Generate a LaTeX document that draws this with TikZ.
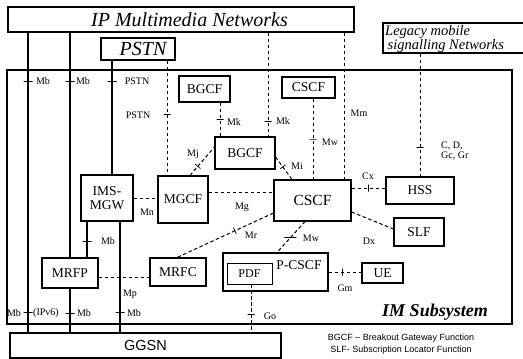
\documentclass[tikz,border=0pt]{standalone}
\usepackage{fontspec}
\setmainfont{Liberation Serif}
\setsansfont{Liberation Sans}
\begin{document}
\begin{tikzpicture}[x=1pt,y=-1pt,
  box/.style={draw, line width=1.1pt, rectangle, inner sep=0pt, font=\fontsize{13.5}{14}\selectfont},
  lab/.style={font=\fontsize{10}{10.5}\selectfont, inner sep=0pt},
  thk/.style={line width=2.4pt},
  dsh/.style={line width=1pt, dash pattern=on 3.5pt off 2.5pt},
  tk/.style={sloped, draw, solid, minimum width=0pt, minimum height=7pt, inner sep=0pt, line width=0.7pt},
  tkb/.style={tk, minimum height=9pt},
  tkh/.style={draw, solid, minimum width=12pt, minimum height=0pt, inner sep=0pt, line width=0.7pt},
]
\useasboundingbox (0,0) rectangle (523,359);

% helper coordinates
\foreach \v in {28,70,87,112,120,167,177,190,220,251,268,277,292,305,313,344,420}
  \coordinate (X\v) at (\v,0);
\foreach \v in {147,157,188,192,198,212,213,229,272,277}
  \coordinate (Y\v) at (0,\v);

% frames
\node[draw, line width=1.5pt, minimum width=505pt, minimum height=254pt, inner sep=0pt] (imsub) at (259.5,197) {};
\node[font=\fontsize{18}{20}\selectfont\bfseries\itshape, inner sep=0pt] (imlab) at (435,312) {IM Subsystem};

\node[box, minimum width=346pt, minimum height=25pt, font=\fontsize{20}{22}\selectfont\itshape] (ipmm) at (181,19.5) {\hspace*{17pt}IP Multimedia Networks};
\node[box, minimum width=74pt, minimum height=22pt, font=\fontsize{20}{22}\selectfont\itshape] (pstn) at (138,49) {\hspace*{10pt}PSTN};
\node[draw, line width=1.1pt, minimum width=143pt, minimum height=30pt, inner sep=0pt] (legacy) at (454.5,38) {};
\node[font=\fontsize{14.5}{13.5}\selectfont\itshape, align=left, anchor=west, inner sep=0pt] (legtxt) at (385,39) {Legacy mobile\\ \,signalling Networks};
\node[box, minimum width=271pt, minimum height=25pt, font=\sffamily\fontsize{14.5}{16}\selectfont] (ggsn) at (145.5,345.5) {GGSN};

% function boxes
\node[box, minimum width=51pt, minimum height=26pt] (bgcf1) at (204.5,89) {BGCF};
\node[box, minimum width=60pt, minimum height=32pt] (bgcf2) at (245,153) {BGCF};
\node[box, minimum width=53pt, minimum height=21pt] (cscf1) at (308.5,87.5) {CSCF};
\node[box, minimum width=50pt, minimum height=47pt] (mgcf) at (183,199.5) {MGCF};
\node[box, minimum width=52pt, minimum height=46pt, align=center, font=\fontsize{13.5}{14}\selectfont] (mgw) at (107,198) {IMS-\\MGW};
\node[box, minimum width=77pt, minimum height=41pt, font=\fontsize{15.5}{16}\selectfont] (cscf) at (312.5,200.5) {CSCF};
\node[box, minimum width=68pt, minimum height=27pt] (hss) at (420,190.5) {HSS};
\node[box, minimum width=50pt, minimum height=28pt] (slf) at (419,232) {SLF};
\node[box, minimum width=56pt, minimum height=30pt] (mrfp) at (70,273) {MRFP};
\node[box, minimum width=56pt, minimum height=28pt] (mrfc) at (178,272) {MRFC};
\node[box, minimum width=105pt, minimum height=38pt] (pcscf) at (275.5,272) {};
\node[font=\fontsize{13.5}{14}\selectfont, inner sep=0pt] (pcscftxt) at (299,265) {P-CSCF};
\node[box, line width=0.6pt, minimum width=45pt, minimum height=21pt, font=\fontsize{12}{13}\selectfont] (pdf) at (249.5,273.5) {PDF};
\node[box, minimum width=41pt, minimum height=20pt] (ue) at (382.5,273) {UE};

% thick bearer lines
\draw[thk] (ipmm.south -| X28) -- node[tkb,pos=0.163]{} node[tkb,pos=0.934]{} (ggsn.north -| X28);
\draw[thk] (ipmm.south -| X70) -- node[tkb,pos=0.217]{} (mrfp.north -| X70);
\draw[thk] (mrfp.south -| X70) -- node[tkb,pos=0.556]{} (ggsn.north -| X70);
\draw[thk] (pstn.south -| X112) -- node[tkb,pos=0.183]{} (mgw.north -| X112);
\draw[thk] (mgw.south -| X87) -- node[tkb,pos=0.54]{} (mrfp.north -| X87);
\draw[thk] (mgw.south -| X120) -- node[tkb,pos=0.82]{} (ggsn.north -| X120);

% dashed signalling lines
\draw[dsh] (pstn.south -| X167) -- node[tk,pos=0.47]{} (mgcf.north -| X167);
\draw[dsh] (bgcf1.south -| X220) -- node[tk,pos=0.5]{} (bgcf2.north -| X220);
\draw[dsh] (ipmm.south -| X268) -- node[tk,pos=0.85]{} (bgcf2.north -| X268);
\draw[dsh] (cscf1.south -| X313) -- node[tk,pos=0.5]{} (cscf.north -| X313);
\draw[dsh] (ipmm.south -| X344) -- (cscf.north -| X344);
\draw[dsh] (legacy.south -| X420) -- node[tk,pos=0.76]{} (hss.north -| X420);
\draw[dsh] (mgw.east |- Y198) -- (mgcf.west |- Y198);
\draw[dsh] (mgcf.north -| X190) -- node[tk,pos=0.32]{} (bgcf2.west |- Y147);
\draw[dsh] (bgcf2.east |- Y157) -- node[tk,pos=0.44]{} (cscf.north -| X292);
\draw[dsh] (mgcf.east |- Y192) -- (cscf.west |- Y192);
\draw[dsh] (cscf.west |- Y213) -- node[tk,pos=0.4]{} (mrfc.north -| X177);
\draw[dsh] (cscf.east |- Y188) -- node[tk,pos=0.49]{} (hss.west |- Y188);
\draw[dsh] (cscf.east |- Y212) -- (slf.west |- Y229);
\draw[dsh] (cscf.south -| X305) -- node[tkh,pos=0.52]{} (pcscf.north -| X277);
\draw[dsh] (pcscf.east |- Y272) -- node[tk,pos=0.41]{} (ue.west |- Y272);
\draw[dsh] (pdf.south -| X251) -- node[tk,pos=0.63]{} (ggsn.north -| X251);
\draw[dsh] (mrfp.east |- Y277) -- (mrfc.west |- Y277);

% interface labels
\node[lab] (l1) at (43,81) {Mb};
\node[lab] (l2) at (83,81) {Mb};
\node[lab] (l3) at (137,81) {PSTN};
\node[lab] (l4) at (138,115) {PSTN};
\node[lab] (l5) at (234,122) {Mk};
\node[lab] (l6) at (283,121) {Mk};
\node[lab] (l7) at (330,142) {Mw};
\node[lab] (l8) at (359,113) {Mm};
\node[lab, align=left, anchor=west] (l9) at (441,151) {C, D,\\Gc, Gr};
\node[lab] (l10) at (193,154) {Mj};
\node[lab] (l11) at (297,166) {Mi};
\node[lab] (l12) at (368,176) {Cx};
\node[lab] (l13) at (147,212) {Mn};
\node[lab] (l14) at (242,207) {Mg};
\node[lab] (l15) at (251,235) {Mr};
\node[lab] (l16) at (369,241) {Dx};
\node[lab] (l17) at (311,238) {Mw};
\node[lab] (l18) at (108,241) {Mb};
\node[lab] (l19) at (130,294) {Mp};
\node[lab] (l20) at (345,288) {Gm};
\node[lab] (l21) at (270,316) {Go};
\node[lab] (l22) at (14,313) {Mb};
\node[lab] (l23) at (46,313) {(IPv6)};
\node[lab] (l24) at (84,313) {Mb};
\node[lab] (l25) at (134,313) {Mb};

% legend
\node[font=\sffamily\fontsize{9}{10}\selectfont, inner sep=0pt] (leg1) at (401,338) {BGCF -- Breakout Gateway Function};
\node[font=\sffamily\fontsize{9}{10}\selectfont, inner sep=0pt] (leg2) at (401,350) {SLF- Subscription Locator Function};
\end{tikzpicture}
\end{document}
